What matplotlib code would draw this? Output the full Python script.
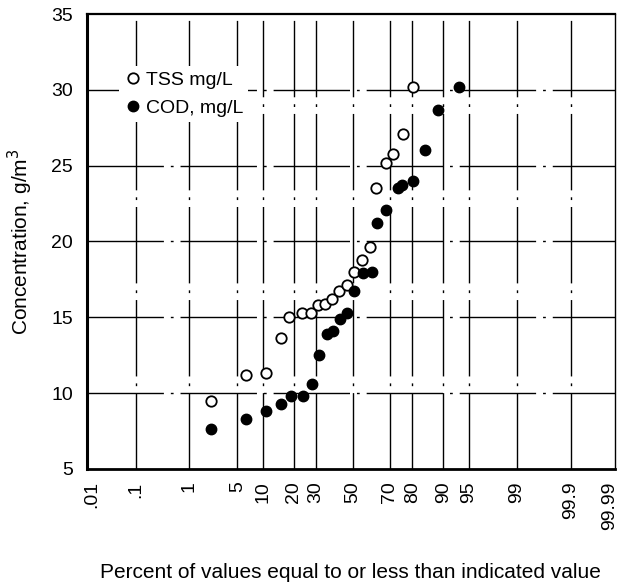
import matplotlib
matplotlib.use("Agg")
import matplotlib.pyplot as plt
import matplotlib.transforms as mtransforms
import numpy as np
from statistics import NormalDist

plt.rcParams['font.family'] = ['Liberation Sans', 'DejaVu Sans']

# values (percent, concentration)
tss_pct = [2.2, 6.4, 10.7, 15.2, 18.3, 23.3, 27.4, 31.1, 34.5, 38.4, 42.3,
           46.4, 50.6, 55.3, 59.5, 62.8, 68.0, 71.4, 76.2, 80.4]
tss_val = [9.5, 11.2, 11.3, 13.6, 15.0, 15.3, 15.3, 15.8, 15.9, 16.2, 16.7,
           17.1, 18.0, 18.8, 19.6, 23.5, 25.2, 25.8, 27.1, 30.2]
cod_pct = [2.2, 6.5, 10.7, 15.3, 18.8, 23.8, 27.9, 31.6, 35.4, 39.0, 42.7,
           46.4, 50.6, 55.8, 60.5, 63.5, 68.0, 74.0, 75.6, 80.4, 84.7, 88.7, 93.3]
cod_val = [7.6, 8.3, 8.8, 9.3, 9.8, 9.8, 10.6, 12.5, 13.9, 14.1, 14.85,
           15.3, 16.7, 17.9, 18.0, 21.2, 22.1, 23.5, 23.7, 24.0, 26.0, 28.7, 30.2]

x_ticks = [0.01, 0.1, 1, 5, 10, 20, 30, 50, 70, 80, 90, 95, 99, 99.9, 99.99]
x_labels = [".01", ".1", "1", "5", "10", "20", "30", "50", "70", "80", "90",
            "95", "99", "99.9", "99.99"]
y_ticks = [5, 10, 15, 20, 25, 30, 35]

nd = NormalDist()
_ppf = np.vectorize(lambda v: nd.inv_cdf(v / 100.0), otypes=[float])
_cdf = np.vectorize(lambda v: 100.0 * nd.cdf(v), otypes=[float])

def fwd(p):
    p = np.clip(np.asarray(p, dtype=float), 1e-7, 100 - 1e-7)
    return _ppf(p)

def inv(z):
    return _cdf(np.asarray(z, dtype=float))

fig = plt.figure(figsize=(6.21, 5.86), dpi=100)
ax = fig.add_axes([0.140, 0.200, 0.850, 0.776])
ax.set_xscale('function', functions=(fwd, inv))

grid_ls = (0, (55, 5, 2, 5))
for t in x_ticks[1:-1]:
    ax.axvline(t, color='black', lw=1.0, ls=grid_ls, zorder=1)
for t in y_ticks[1:-1]:
    ax.axhline(t, color='black', lw=1.0, ls=grid_ls, zorder=1)

ax.plot(tss_pct, tss_val, 'o', ms=7.5, mfc='white', mec='black', mew=1.3,
        label='TSS mg/L', zorder=3)
ax.plot(cod_pct, cod_val, 'o', ms=7.5, mfc='black', mec='black',
        label='COD, mg/L', zorder=3)

ax.set_xlim(0.0078, 99.990)
ax.set_ylim(5, 35)
ax.set_xticks(x_ticks)
ax.set_xticklabels(x_labels, rotation=90, fontsize=14)
ax.set_yticks(y_ticks)
ax.tick_params(axis='y', length=0, pad=10, labelsize=14)
ax.tick_params(axis='x', length=0, pad=9)
ax.minorticks_off()

# keep the last label inside the figure
last = ax.get_xticklabels()[-1]
last.set_transform(last.get_transform() +
                   mtransforms.ScaledTranslation(-5 / 100, 0, fig.dpi_scale_trans))

for side, w in [('left', 2.2), ('bottom', 2.0), ('top', 1.6), ('right', 1.0)]:
    ax.spines[side].set_linewidth(w)

ax.set_ylabel("Concentration, g/m$^3$", fontsize=15, labelpad=12)
ax.set_xlabel("Percent of values equal to or less than indicated value",
              fontsize=15, labelpad=24)

leg = ax.legend(loc='upper left', bbox_to_anchor=(0.06, 0.885), frameon=True,
                fontsize=14, handletextpad=0.15, borderaxespad=0,
                labelspacing=0.55, handlelength=1.0, borderpad=0.25,
                fancybox=False, framealpha=1.0)
leg.get_frame().set_edgecolor('none')
leg.get_frame().set_facecolor('white')
leg.set_zorder(4)

fig.savefig("out.png", dpi=100)
